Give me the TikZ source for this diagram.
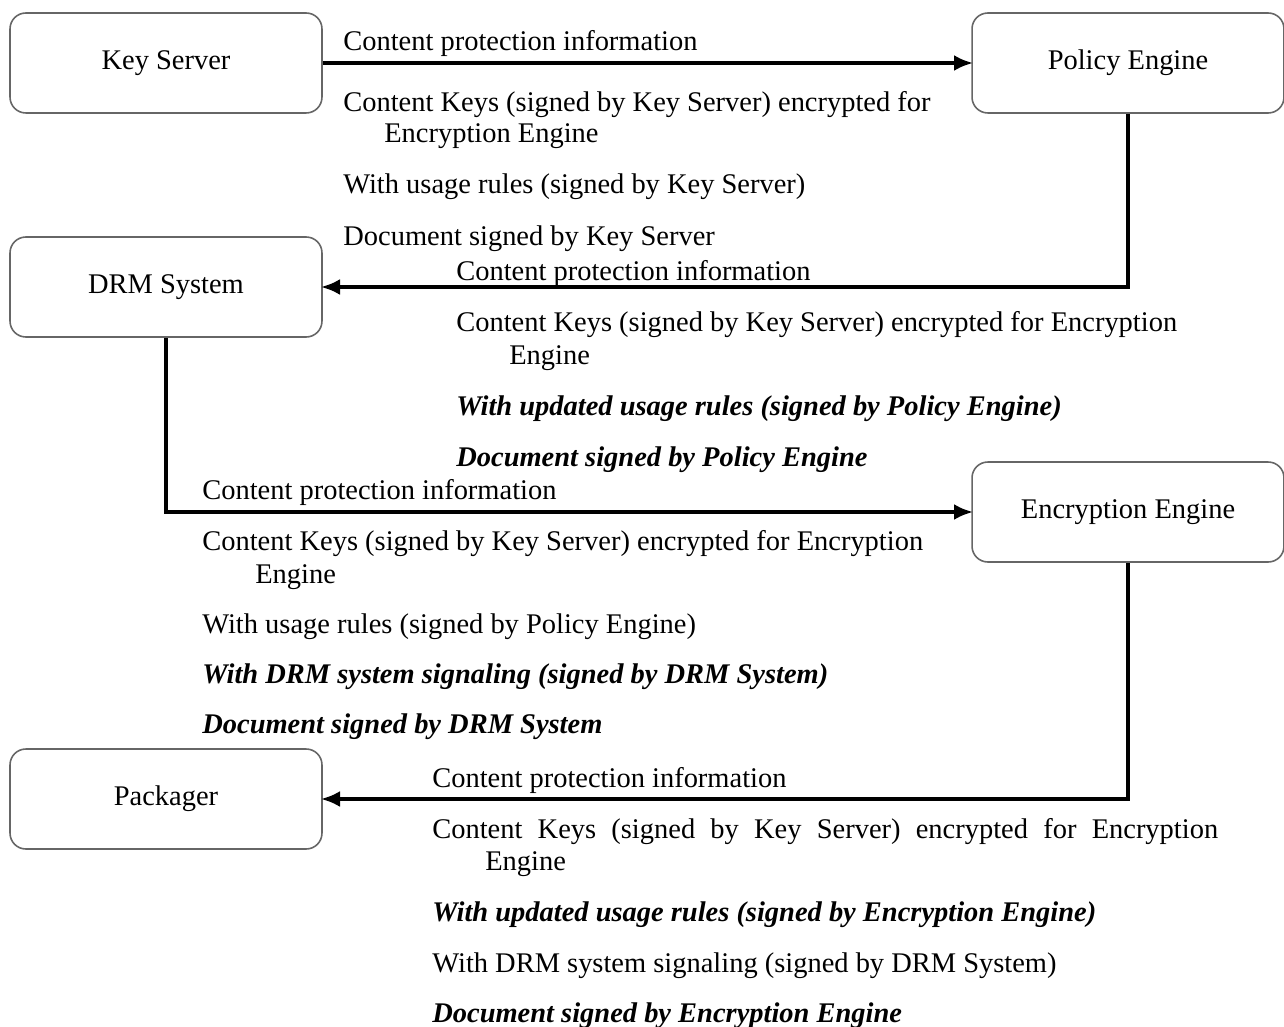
\documentclass[tikz,border=0pt]{standalone}
\usepackage{fontspec}
\setmainfont{Liberation Serif}
\usetikzlibrary{arrows.meta}
\begin{document}
\begin{tikzpicture}[x=0.02cm, y=-0.02cm]
\tikzset{every node/.style={font=\fontsize{16.2}{19}\selectfont},
         party/.style={draw=black!60, line width=0.9pt, rounded corners=9pt,
                       minimum width=6.24cm, minimum height=2cm},
         msg/.style={anchor=base west, inner sep=0pt},
         hot/.style={msg, font=\fontsize{16.2}{19}\selectfont\bfseries\itshape},
         flow/.style={line width=2pt, shorten >=-1pt,
                      -{Latex[length=0.38cm, width=0.32cm]}}}
\useasboundingbox (0,0) rectangle (1284,1027);
% the five parties
\node[party] (keysrv) at (166,63) {Key Server};
\node[party] (policy) at (1128,63) {Policy Engine};
\node[party] (drm) at (166,287) {DRM System};
\node[party] (encr) at (1128,512) {Encryption Engine};
\node[party] (pack) at (166,799) {Packager};
% flows
\draw[flow] (keysrv) -- (policy);
\draw[flow] (policy.south) |- (drm.east);
\draw[flow] (drm.south) |- (encr.west);
\draw[flow] (encr.south) |- (pack.east);
% Key Server -> Policy Engine
\node[msg] (info1) at (343,51) {Content protection information};
\node[msg] (keys1) at (343,112) {Content Keys (signed by Key Server) encrypted for};
\node[msg] (keys1b) at (384,143) {Encryption Engine};
\node[msg] (rules1) at (343,194) {With usage rules (signed by Key Server)};
\node[msg] (doc1) at (343,245) {Document signed by Key Server};
% Policy Engine -> DRM System
\node[msg] (info2) at (456,280) {Content protection information};
\node[msg] (keys2) at (456,331) {Content Keys (signed by Key Server) encrypted for Encryption};
\node[msg] (keys2b) at (509,364) {Engine};
\node[hot] (rules2) at (456,415) {With updated usage rules (signed by Policy Engine)};
\node[hot] (doc2) at (456,466) {Document signed by Policy Engine};
% DRM System -> Encryption Engine
\node[msg] (info3) at (202,499) {Content protection information};
\node[msg] (keys3) at (202,550) {Content Keys (signed by Key Server) encrypted for Encryption};
\node[msg] (keys3b) at (255,583) {Engine};
\node[msg] (rules3) at (202,633) {With usage rules (signed by Policy Engine)};
\node[hot] (sig3) at (202,683) {With DRM system signaling (signed by DRM System)};
\node[hot] (doc3) at (202,733) {Document signed by DRM System};
% Encryption Engine -> Packager
\node[msg] (info4) at (432,787) {Content protection information};
\node[msg] (keys4) at (432,838) {\makebox[15.72cm][s]{Content Keys (signed by Key Server) encrypted for Encryption}};
\node[msg] (keys4b) at (485,870) {Engine};
\node[hot] (rules4) at (432,921) {With updated usage rules (signed by Encryption Engine)};
\node[msg] (sig4) at (432,972) {With DRM system signaling (signed by DRM System)};
\node[hot] (doc4) at (432,1022) {Document signed by Encryption Engine};
\end{tikzpicture}
\end{document}
